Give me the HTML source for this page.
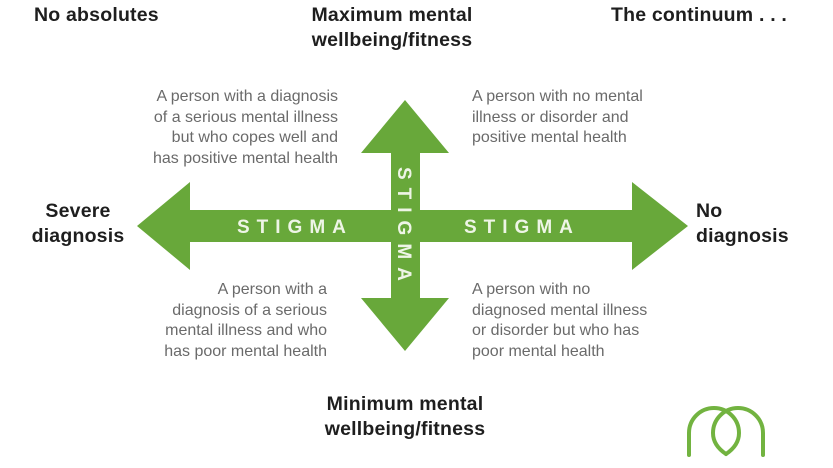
<!DOCTYPE html>
<html><head><meta charset="utf-8"><style>
body{margin:0;width:833px;height:468px;background:#fff;position:relative;overflow:hidden;font-family:"Liberation Sans",sans-serif}
.t{position:absolute;color:#1e1e1e;font-size:19.5px;font-weight:bold;line-height:25px;white-space:nowrap;letter-spacing:0.2px}
.d{position:absolute;color:#6a6a6a;font-size:16px;line-height:20.5px;white-space:nowrap}
</style></head><body>
<div class="t" style="left:34px;top:3px">No absolutes</div>
<div class="t" style="left:282px;top:3px;width:220px;text-align:center">Maximum mental<br>wellbeing/fitness</div>
<div class="t" style="left:611px;top:3px">The continuum . . .</div>
<div class="t" style="left:26px;top:199px;text-align:center;width:104px">Severe<br>diagnosis</div>
<div class="t" style="left:696px;top:199px">No<br>diagnosis</div>
<div class="t" style="left:295px;top:392px;width:220px;text-align:center">Minimum mental<br>wellbeing/fitness</div>
<div class="d" style="left:120px;top:87px;width:218px;text-align:right">A person with a diagnosis<br>of a serious mental illness<br>but who copes well and<br>has positive mental health</div>
<div class="d" style="left:472px;top:87px">A person with no mental<br>illness or disorder and<br>positive mental health</div>
<div class="d" style="left:110px;top:280px;width:217px;text-align:right">A person with a<br>diagnosis of a serious<br>mental illness and who<br>has poor mental health</div>
<div class="d" style="left:472px;top:280px">A person with no<br>diagnosed mental illness<br>or disorder but who has<br>poor mental health</div>
<svg width="833" height="468" style="position:absolute;left:0;top:0">
<g fill="#68a83a">
<polygon points="137,226 190,182 190,210 632,210 632,182 688,226 632,270 632,242 190,242 190,270"/>
<polygon points="405,100 449,153 420,153 420,298 449,298 405,351 361,298 391,298 391,153 361,153"/>
</g>
<g fill="#eef5e6" font-family="Liberation Sans,sans-serif" font-size="19" font-weight="bold" letter-spacing="7">
<text x="237" y="233">STIGMA</text>
<text x="464" y="233">STIGMA</text>
<text transform="translate(398,167) rotate(90)" letter-spacing="8">STIGMA</text>
</g>
<g fill="none" stroke="#72b340" stroke-width="4" stroke-linecap="round">
<path d="M689,455 V433 A25,25 0 0 1 739,433 C739,443 732,450 726,454"/>
<path d="M726,454 C720,450 713,443 713,433 A25,25 0 0 1 763,433 V455"/>
</g>
</svg>
</body></html>
